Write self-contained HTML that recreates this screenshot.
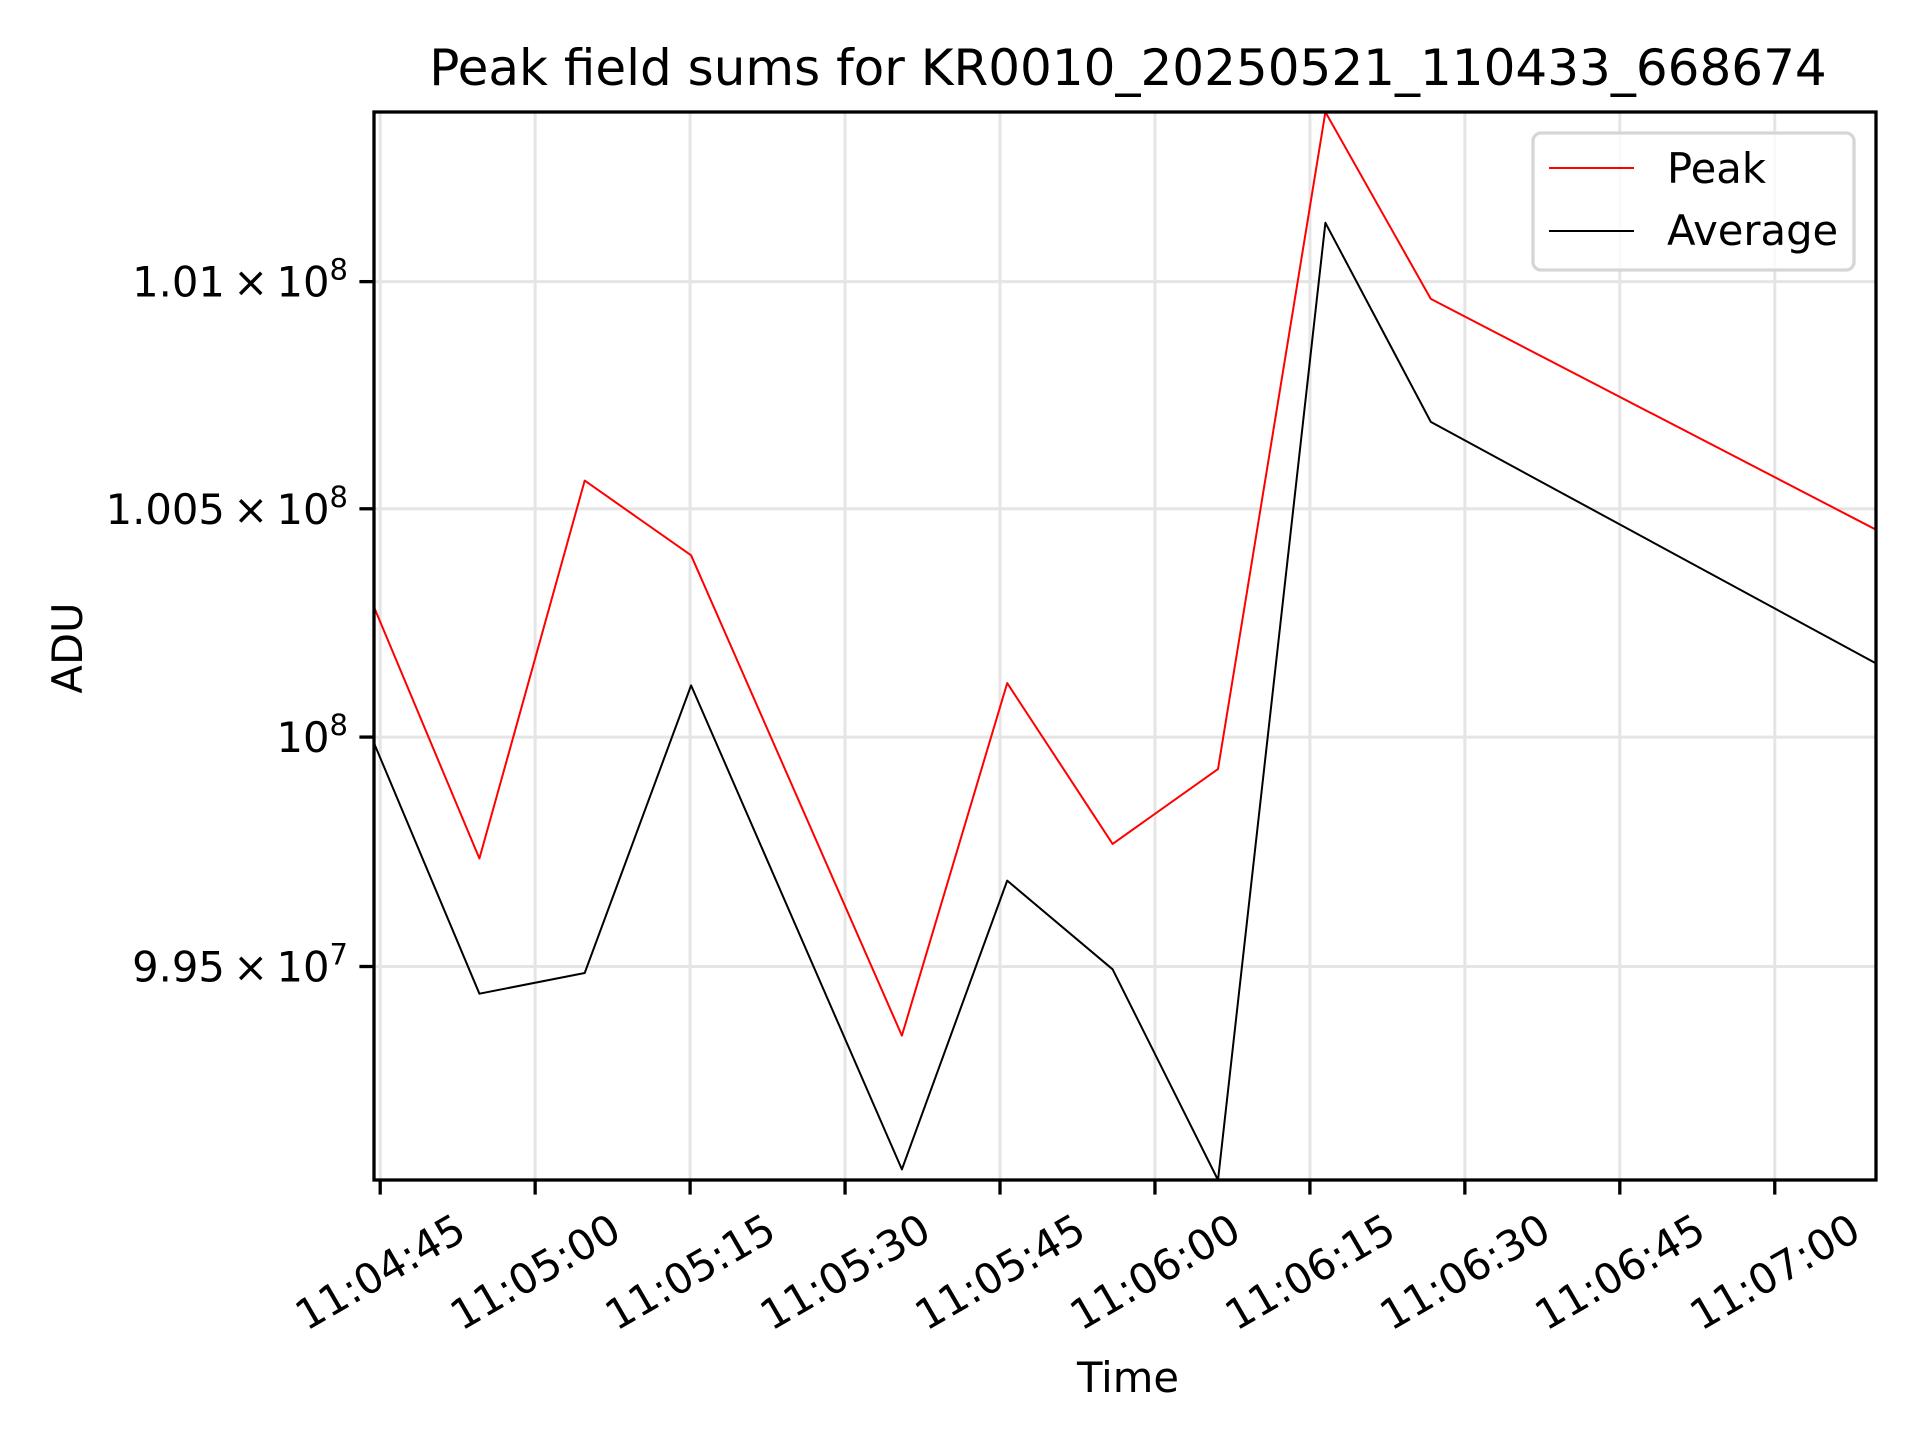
<!DOCTYPE html>
<html><head><meta charset="utf-8"><style>
html,body{margin:0;padding:0;background:#fff;}
svg{display:block;font-family:"DejaVu Sans","Liberation Sans",sans-serif;}
</style></head><body>
<svg id="chart" width="1920" height="1440" viewBox="0 0 1920 1440">
<rect width="1920" height="1440" fill="#fff"/>
<g id="grid"></g>
<g id="series"></g>
<rect x="374" y="112" width="1502" height="1068" fill="none" stroke="#000" stroke-width="3.3"/>
<g id="ticks"></g>
<text x="1128" y="85" font-size="50" text-anchor="middle">Peak field sums for KR0010_20250521_110433_668674</text>
<text x="1128" y="1392" font-size="41.7" text-anchor="middle">Time</text>
<text x="0" y="0" font-size="41.7" text-anchor="middle" transform="translate(82,648) rotate(-90)">ADU</text>
<g>
<rect x="1533" y="133" width="321" height="137" rx="8" fill="#fff" fill-opacity="0.8" stroke="#d6d6d6" stroke-width="3.3"/>
<line x1="1549" y1="168" x2="1634" y2="168" stroke="#ff0000" stroke-width="2"/>
<text x="1667" y="183" font-size="41.7">Peak</text>
<line x1="1549" y1="231" x2="1634" y2="231" stroke="#000" stroke-width="2"/>
<text x="1667" y="245" font-size="41.7">Average</text>
</g>
</svg>
<script>
// times in seconds after 11:04:45
const times = [-0.6, 9.6, 19.8, 30.1, 50.5, 60.7, 70.9, 81.1, 91.5, 101.7, 144.8];
const peakValues = [1.002847e8, 0.99735e8, 1.00562e8, 1.00398e8, 0.99350e8, 1.00118e8, 0.99767e8, 0.99930e8, 1.01375e8, 1.00962e8, 1.00454e8];
const averageValues = [0.99987e8, 0.99441e8, 0.99486e8, 1.00113e8, 0.99060e8, 0.99687e8, 0.99494e8, 0.99037e8, 1.01130e8, 1.00691e8, 1.00161e8];
const xTickSeconds = [0, 15, 30, 45, 60, 75, 90, 105, 120, 135];
const xTickLabels = ["11:04:45","11:05:00","11:05:15","11:05:30","11:05:45","11:06:00","11:06:15","11:06:30","11:06:45","11:07:00"];
const yTickValues = [0.995e8, 1e8, 1.005e8, 1.01e8];
const yTickMantissa = ["9.95", "", "1.005", "1.01"];
const yTickExponent = ["7", "8", "8", "8"];

const NS = "http://www.w3.org/2000/svg";
const L = 374, R = 1876, T = 112, B = 1180;
const xMin = Math.min(...times), xMax = Math.max(...times);
const yMin = Math.min(...averageValues, ...peakValues), yMax = Math.max(...averageValues, ...peakValues);
function xs(t){ return L + (t - xMin) / (xMax - xMin) * (R - L); }
function ys(v){ return B - (Math.log10(v) - Math.log10(yMin)) / (Math.log10(yMax) - Math.log10(yMin)) * (B - T); }
function mk(tag, attrs, parent){ const e = document.createElementNS(NS, tag); for (const k in attrs) e.setAttribute(k, attrs[k]); parent.appendChild(e); return e; }

const grid = document.getElementById('grid');
const ticks = document.getElementById('ticks');
const series = document.getElementById('series');

xTickSeconds.forEach((s, i) => {
  const x = xs(s);
  if (x < L - 1 || x > R + 1) return;
  const g = mk('line', {x1:x, y1:T, x2:x, y2:B, stroke:'#e5e5e5', 'stroke-width':3}, grid);
  
  
  const t = mk('line', {x1:x, y1:B, x2:x, y2:B+14.6, stroke:'#000', 'stroke-width':3.3}, ticks);
  
  
  const lb = mk('text', {x:0, y:0, 'font-size':41.7, 'text-anchor':'middle', 'dominant-baseline':'central', transform:`translate(${x},1272) rotate(-30)`}, ticks);
  lb.textContent = xTickLabels[i];
  
  
});

yTickValues.forEach((v, i) => {
  const y = ys(v);
  const g = mk('line', {x1:L, y1:y, x2:R, y2:y, stroke:'#e5e5e5', 'stroke-width':3}, grid);
  
  
  const t = mk('line', {x1:L-14.6, y1:y, x2:L, y2:y, stroke:'#000', 'stroke-width':3.3}, ticks);
  
  
  const lb = mk('text', {x:348, y:y+15, 'font-size':41.7, 'text-anchor':'end'}, ticks);
  
  
  const base = document.createElementNS(NS, 'tspan');
  base.textContent = (yTickMantissa[i] ? yTickMantissa[i] + '\u2009\u00d7\u200910' : '10');
  lb.appendChild(base);
  const sup = document.createElementNS(NS, 'tspan');
  sup.setAttribute('dy', '-17');
  sup.setAttribute('font-size', '29');
  sup.textContent = yTickExponent[i];
  lb.appendChild(sup);
});

function drawLine(vals, color, name){
  const pts = times.map((t, i) => xs(t).toFixed(1) + ',' + ys(vals[i]).toFixed(1)).join(' ');
  const p = mk('polyline', {points:pts, fill:'none', stroke:color, 'stroke-width':2, 'stroke-linejoin':'round'}, series);
  
  
}
drawLine(peakValues, '#ff0000', 'peak-line');
drawLine(averageValues, '#000000', 'average-line');
</script>
</body></html>
